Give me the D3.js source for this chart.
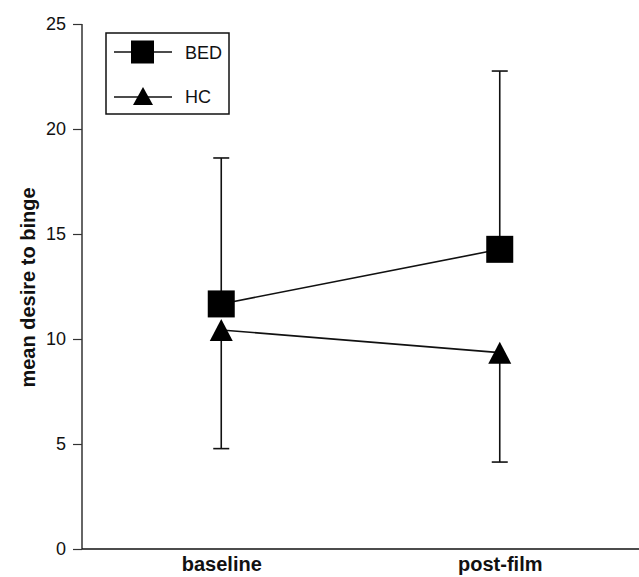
<!DOCTYPE html>
<html>
<head>
<meta charset="utf-8">
<script src="https://cdn.jsdelivr.net/npm/d3@7"></script>
<style>
  body { margin: 0; background: #fff; }
  svg { display: block; font-family: "Liberation Sans", Arial, sans-serif; }
</style>
</head>
<body>
<div id="chart"></div>
<script>
// values
var conditions = ["baseline", "post-film"];
var bed_mean = [11.67, 14.27];
var bed_sd = [6.95, 8.49];
var hc_mean = [10.43, 9.35];
var hc_sd = [5.65, 5.21];
var y_ticks = [0, 5, 10, 15, 20, 25];

var width = 639, height = 577;

var svg = d3.select("#chart")
    .append("svg")
    .attr("width", width)
    .attr("height", height);

var x = d3.scalePoint()
    .domain(conditions)
    .range([82, 639])
    .padding(0.5);

var y = d3.scaleLinear()
    .domain([0, 25])
    .range([549, 24]);

// y axis
var yAxis = svg.append("g")
    .attr("transform", "translate(82,0)")
    .call(d3.axisLeft(y).tickValues(y_ticks).tickSize(9).tickPadding(7));
yAxis.select(".domain").attr("stroke", "#333").attr("stroke-width", 1.5)
    .attr("d", "M0," + y(25) + "V" + y(0));
yAxis.selectAll(".tick line").attr("stroke", "#333").attr("stroke-width", 1.2);
yAxis.selectAll(".tick text").attr("font-size", 18).attr("fill", "#111")
    .attr("font-family", "Liberation Sans, Arial, sans-serif");

// x axis
var xAxis = svg.append("g")
    .attr("transform", "translate(0," + y(0) + ")")
    .call(d3.axisBottom(x).tickSize(0).tickPadding(8));
xAxis.select(".domain").attr("stroke", "#111").attr("stroke-width", 1.5)
    .attr("d", "M82,0H639");
xAxis.selectAll(".tick text").attr("font-size", 20).attr("font-weight", "bold")
    .attr("fill", "#111").attr("font-family", "Liberation Sans, Arial, sans-serif");

// y label
svg.append("text")
    .attr("transform", "translate(35," + (y(12.5) + 1) + ") rotate(-90)")
    .attr("text-anchor", "middle")
    .attr("font-size", 20)
    .attr("font-weight", "bold")
    .attr("fill", "#111")
    .text("mean desire to binge");

var cap = 8;

function errorBars(means, sds, dir) {
    var g = svg.append("g").attr("stroke", "#111").attr("stroke-width", 1.6);
    conditions.forEach(function(c, i){
        var end = means[i] + dir * sds[i];
        g.append("line")
            .attr("x1", x(c)).attr("x2", x(c))
            .attr("y1", y(means[i])).attr("y2", y(end));
        g.append("line")
            .attr("x1", x(c) - cap).attr("x2", x(c) + cap)
            .attr("y1", y(end)).attr("y2", y(end));
    });
}
errorBars(bed_mean, bed_sd, 1);
errorBars(hc_mean, hc_sd, -1);

var line = d3.line()
    .x(function(d, i){ return x(conditions[i]); })
    .y(function(d){ return y(d); });

svg.append("path").datum(bed_mean)
    .attr("d", line).attr("fill", "none").attr("stroke", "#111").attr("stroke-width", 1.6);
svg.append("path").datum(hc_mean)
    .attr("d", line).attr("fill", "none").attr("stroke", "#111").attr("stroke-width", 1.6);

function tri(cx, cy, w, h) {
    return "M" + cx + "," + (cy - h / 2) + "L" + (cx + w / 2) + "," + (cy + h / 2) +
        "L" + (cx - w / 2) + "," + (cy + h / 2) + "Z";
}

var sq = 27;
svg.selectAll(".bed-marker")
    .data(bed_mean)
    .enter()
    .append("rect")
    .attr("class", "bed-marker")
    .attr("x", function(d, i){ return x(conditions[i]) - sq / 2; })
    .attr("y", function(d){ return y(d) - sq / 2; })
    .attr("width", sq).attr("height", sq)
    .attr("fill", "#000");

svg.selectAll(".hc-marker")
    .data(hc_mean)
    .enter()
    .append("path")
    .attr("class", "hc-marker")
    .attr("d", function(d, i){ return tri(x(conditions[i]), y(d), 23, 22); })
    .attr("fill", "#000");

// legend
var legend = svg.append("g");
legend.append("rect")
    .attr("x", 106).attr("y", 33).attr("width", 123).attr("height", 81)
    .attr("fill", "#fff").attr("stroke", "#111").attr("stroke-width", 1.5);
legend.append("line").attr("x1", 114).attr("x2", 172).attr("y1", 52).attr("y2", 52)
    .attr("stroke", "#111").attr("stroke-width", 1.3);
legend.append("rect").attr("x", 131).attr("y", 40.5).attr("width", 23).attr("height", 23)
    .attr("fill", "#000");
legend.append("text").attr("x", 185).attr("y", 58.5).attr("font-size", 18).attr("fill", "#111")
    .text("BED");
legend.append("line").attr("x1", 114).attr("x2", 172).attr("y1", 97).attr("y2", 97)
    .attr("stroke", "#111").attr("stroke-width", 1.3);
legend.append("path").attr("d", tri(143, 96, 20, 18)).attr("fill", "#000");
legend.append("text").attr("x", 185).attr("y", 103).attr("font-size", 18).attr("fill", "#111")
    .text("HC");
</script>
</body>
</html>
